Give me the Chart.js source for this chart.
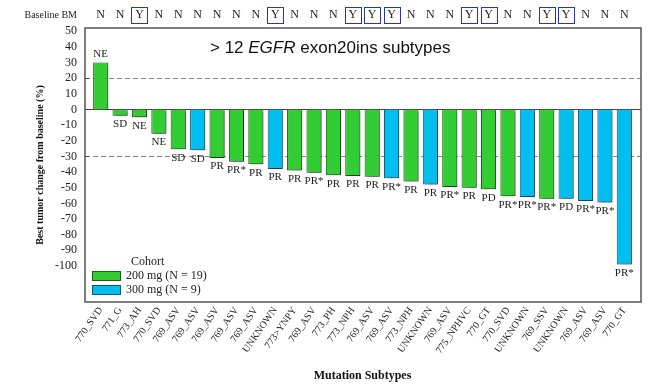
<!DOCTYPE html>
<html>
<head>
<meta charset="utf-8">
<script src="https://cdn.jsdelivr.net/npm/chart.js@4.4.1/dist/chart.umd.min.js"></script>
<style>
  html, body { margin: 0; padding: 0; background: #fff; }
  #wrap { width: 652px; height: 387px; }
</style>
</head>
<body>
<div id="wrap"><canvas id="chart" width="652" height="387"></canvas></div>
<script>
// Datos del gráfico
const subtypes = ['770_SVD', '771_G', '773_AH', '770_SVD', '769_ASV', '769_ASV', '769_ASV', '769_ASV', '769_ASV', 'UNKNOWN',
  '773>YNPY', '769_ASV', '773_PH', '773_NPH', '769_ASV', '769_ASV', '773_NPH', 'UNKNOWN', '769_ASV', '775_NPHVC',
  '770_GT', '770_SVD', 'UNKNOWN', '769_SSV', 'UNKNOWN', '769_ASV', '769_ASV', '770_GT'];
const tumorChange = [30, -4, -5, -15.5, -25.5, -26, -31, -33.5, -35, -38,
  -39, -40.5, -42, -42.5, -43, -44, -46, -48, -49.5, -50,
  -51, -55.5, -56, -57, -57, -58.5, -59.5, -99];
const cohort = ['200', '200', '200', '200', '200', '300', '200', '200', '200', '300',
  '200', '200', '200', '200', '200', '300', '200', '300', '200', '200',
  '200', '200', '300', '200', '300', '300', '300', '300'];
const response = ['NE', 'SD', 'NE', 'NE', 'SD', 'SD', 'PR', 'PR*', 'PR', 'PR',
  'PR', 'PR*', 'PR', 'PR', 'PR', 'PR*', 'PR', 'PR', 'PR*', 'PR',
  'PD', 'PR*', 'PR*', 'PR*', 'PD', 'PR*', 'PR*', 'PR*'];
const baselineBM = ['N', 'N', 'Y', 'N', 'N', 'N', 'N', 'N', 'N', 'Y',
  'N', 'N', 'N', 'Y', 'Y', 'Y', 'N', 'N', 'N', 'Y',
  'Y', 'N', 'N', 'Y', 'Y', 'N', 'N', 'N'];
const yTicks = [50, 40, 30, 20, 10, 0, -10, -20, -30, -40, -50, -60, -70, -80, -90, -100];
const refLines = [20, -30];
const cohortLabels = { '200': '200 mg (N = 19)', '300': '300 mg (N = 9)' };

const GREEN = 'rgb(50,205,50)';
const BLUE = 'rgb(0,190,240)';
const GREEN_EDGE = '#1d5e1d';
const BLUE_EDGE = '#135a78';
const SERIF = '"Liberation Serif", "DejaVu Serif", serif';

// Plugin: marco, líneas de referencia, etiquetas, fila de BM y leyenda
const decorations = {
  id: 'decorations',
  beforeDatasetsDraw(chart) {
    const { ctx, chartArea: a, scales: { y } } = chart;
    ctx.save();
    ctx.strokeStyle = '#888';
    ctx.lineWidth = 1;
    ctx.setLineDash([5, 3]);
    refLines.forEach(v => {
      const py = Math.round(y.getPixelForValue(v)) + 0.5;
      ctx.beginPath(); ctx.moveTo(a.left - 6, py); ctx.lineTo(a.right + 7, py); ctx.stroke();
    });
    ctx.setLineDash([]);
    ctx.strokeStyle = '#444';
    const z = Math.round(y.getPixelForValue(0)) + 0.5;
    ctx.beginPath(); ctx.moveTo(a.left - 6, z); ctx.lineTo(a.right + 7, z); ctx.stroke();
    // pequeñas marcas en el eje izquierdo
    [20, 0, -30].forEach(v => {
      const py = Math.round(y.getPixelForValue(v)) + 0.5;
      ctx.beginPath(); ctx.moveTo(a.left - 6, py); ctx.lineTo(a.left - 2, py); ctx.stroke();
    });
    ctx.restore();
  },
  beforeDatasetDraw(chart) {
    // sombra de las barras
    const ctx = chart.ctx;
    ctx.save();
    ctx.shadowColor = 'rgba(0,0,0,0.4)';
    ctx.shadowOffsetX = 2;
    ctx.shadowOffsetY = 2;
    ctx.shadowBlur = 3;
  },
  afterDatasetDraw(chart) {
    chart.ctx.restore();
  },
  afterDatasetsDraw(chart) {
    const { ctx, chartArea: a, scales: { x, y } } = chart;
    ctx.save();
    // marco del gráfico
    ctx.strokeStyle = '#555';
    ctx.lineWidth = 1.5;
    ctx.strokeRect(a.left - 6, a.top, a.right - a.left + 13, a.bottom - a.top);
    // etiquetas de respuesta
    ctx.fillStyle = '#222';
    ctx.font = '11px ' + SERIF;
    ctx.textAlign = 'center';
    chart.getDatasetMeta(0).data.forEach((bar, i) => {
      if (tumorChange[i] >= 0) {
        ctx.textBaseline = 'bottom';
        ctx.fillText(response[i], bar.x, bar.y - 3);
      } else {
        ctx.textBaseline = 'top';
        ctx.fillText(response[i], bar.x, bar.y + 3);
      }
    });
    // fila Baseline BM
    ctx.font = '10px ' + SERIF;
    ctx.textAlign = 'right';
    ctx.textBaseline = 'middle';
    ctx.fillText('Baseline BM', 77, 15);
    ctx.font = '12px ' + SERIF;
    ctx.textAlign = 'center';
    baselineBM.forEach((v, i) => {
      const px = x.getPixelForValue(i);
      ctx.fillStyle = '#222';
      ctx.fillText(v, px, 15);
      if (v === 'Y') {
        ctx.strokeStyle = '#2233cc';
        ctx.lineWidth = 1;
        ctx.strokeRect(Math.round(px - 8) + 0.5, 7.5, 16, 16);
      }
    });
    // título interno
    ctx.fillStyle = '#111';
    ctx.textAlign = 'left';
    ctx.textBaseline = 'alphabetic';
    const parts = [['> 12 ', ''], ['EGFR', 'italic '], [' exon20ins subtypes', '']];
    let tx = 210;
    parts.forEach(([t, st]) => {
      ctx.font = st + '17px "Liberation Sans", Arial, sans-serif';
      ctx.fillText(t, tx, 53);
      tx += ctx.measureText(t).width;
    });
    // leyenda
    ctx.font = '12px ' + SERIF;
    ctx.fillStyle = '#222';
    ctx.textBaseline = 'middle';
    ctx.fillText('Cohort', 131, 262);
    [['200', GREEN, GREEN_EDGE, 276], ['300', BLUE, BLUE_EDGE, 290]].forEach(([k, fill, stroke, cy]) => {
      ctx.fillStyle = fill;
      ctx.fillRect(92, cy - 5, 29, 10);
      ctx.strokeStyle = stroke;
      ctx.lineWidth = 1;
      ctx.strokeRect(92.5, cy - 4.5, 28, 9);
      ctx.fillStyle = '#222';
      ctx.fillText(cohortLabels[k], 126, cy);
    });
    ctx.restore();
  }
};

new Chart(document.getElementById('chart'), {
  type: 'bar',
  data: {
    labels: subtypes,
    datasets: [{
      data: tumorChange,
      backgroundColor: cohort.map(c => c === '200' ? GREEN : BLUE),
      borderColor: cohort.map(c => c === '200' ? GREEN_EDGE : BLUE_EDGE),
      borderWidth: 1,
      borderSkipped: 'start',
      barPercentage: 0.78,
      categoryPercentage: 1
    }]
  },
  options: {
    responsive: false,
    animation: false,
    layout: { padding: { left: 0, right: 18, top: 28, bottom: 0 } },
    plugins: { legend: { display: false }, tooltip: { enabled: false } },
    scales: {
      x: {
        grid: { display: false, drawTicks: false },
        border: { display: false },
        ticks: {
          autoSkip: false, minRotation: 55, maxRotation: 55, padding: 3,
          color: '#222', font: { family: SERIF, size: 10 }
        },
        title: {
          display: true, text: 'Mutation Subtypes', color: '#111',
          font: { family: SERIF, size: 12, weight: 'bold' }, padding: { top: 0, bottom: 4 }
        },
        afterFit(s) { s.height = 85; }
      },
      y: {
        min: -123, max: 52,
        grid: { display: false, drawTicks: false },
        border: { display: false },
        afterBuildTicks(s) { s.ticks = yTicks.map(v => ({ value: v })); },
        ticks: { padding: 14, color: '#222', font: { family: SERIF, size: 12 } },
        title: {
          display: true, text: 'Best tumor change from baseline (%)', color: '#111',
          font: { family: SERIF, size: 10, weight: 'bold' }, padding: { top: 34, bottom: 0 }
        },
        afterFit(s) { s.width = 91; }
      }
    }
  },
  plugins: [decorations]
});
</script>
</body>
</html>
